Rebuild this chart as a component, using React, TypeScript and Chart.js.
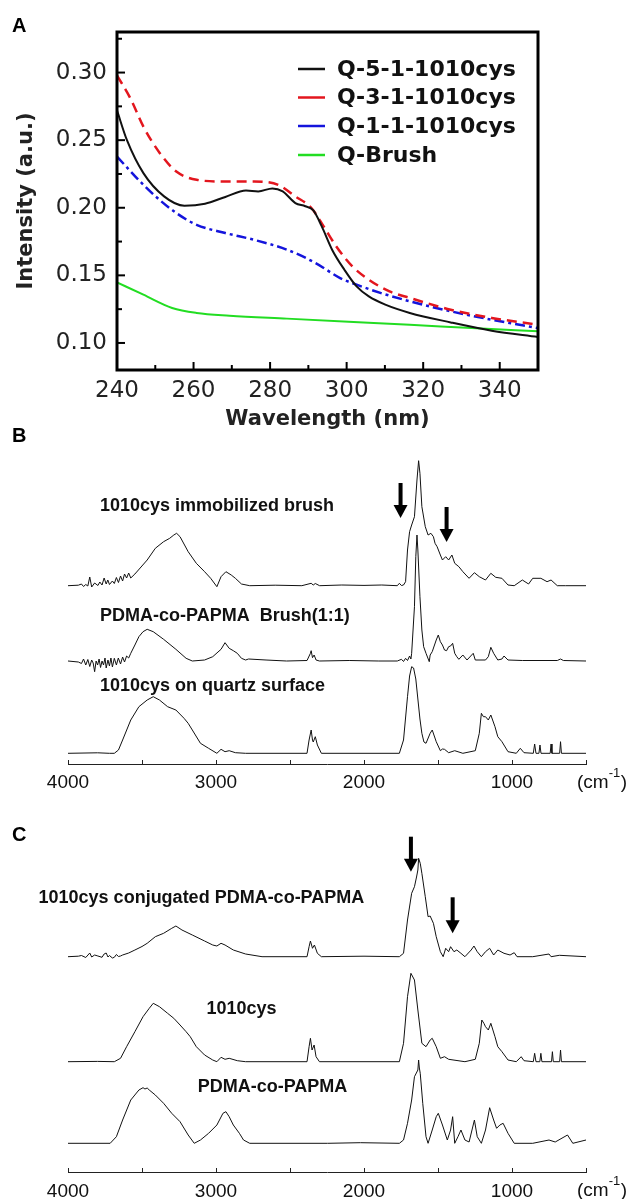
import React, { useEffect, useRef } from 'react';
import { Chart, registerables } from 'chart.js';

Chart.register(...registerables);

const SANS = "'Liberation Sans', Arial, Helvetica, sans-serif";
const WIDE = "'DejaVu Sans', Verdana, sans-serif";

type Pt = [number, number];

// ---------------- Panel A : UV spectra ----------------
const q5Wavelength = [240, 242.6, 246.9, 252.3, 257.6, 263, 268.3, 273.7, 276.9, 280.6, 283.3, 286.6, 289.2, 291.3, 293.5, 296.2, 299.4, 302.6, 305.8, 310.1, 316.5, 327.2, 337.9, 350];
const q5Intensity = [0.272, 0.25, 0.2256, 0.2084, 0.2015, 0.203, 0.208, 0.2128, 0.2121, 0.2143, 0.2121, 0.2035, 0.2011, 0.198, 0.1862, 0.169, 0.1542, 0.1418, 0.1344, 0.1283, 0.1222, 0.1152, 0.1091, 0.1044];

const q3Wavelength = [240, 243.7, 246.9, 251.2, 255.5, 260.8, 268.3, 275.8, 282.2, 286.6, 290.8, 294, 297.3, 301.5, 305.8, 311.2, 316.5, 327.2, 337.9, 350];
const q3Intensity = [0.298, 0.2798, 0.26, 0.2404, 0.2268, 0.2207, 0.2194, 0.2194, 0.2168, 0.2084, 0.1998, 0.1862, 0.1714, 0.1566, 0.1468, 0.1381, 0.1333, 0.1246, 0.1185, 0.1135];

const q1Wavelength = [240, 244.8, 250.1, 255.5, 260.8, 268.3, 275.8, 284.4, 291.9, 298.3, 302.6, 309, 316.5, 327.2, 337.9, 350];
const q1Intensity = [0.2379, 0.2231, 0.2084, 0.1961, 0.1874, 0.1813, 0.1763, 0.169, 0.1591, 0.148, 0.1431, 0.1369, 0.1308, 0.1234, 0.1172, 0.111];

const brushWavelength = [240, 246.9, 254.4, 260.8, 269.4, 284.4, 300.5, 316.5, 332.6, 350];
const brushIntensity = [0.1448, 0.1357, 0.1259, 0.1222, 0.1202, 0.118, 0.1157, 0.1135, 0.111, 0.1086];

const seriesNamesA = ['Q-5-1-1010cys', 'Q-3-1-1010cys', 'Q-1-1-1010cys', 'Q-Brush'];

const aXMajor = [240, 260, 280, 300, 320, 340];
const aXMinor = [250, 270, 290, 310, 330, 350];
const aYMajor = [0.1, 0.15, 0.2, 0.25, 0.3];
const aYMinor = [0.125, 0.175, 0.225, 0.275, 0.325];

// ---------------- Panel B : FTIR ----------------
const bImmobilized: Pt[] = [
  [4000, 178.3], [3930, 178.8], [3909, 180], [3895, 177.5], [3880, 179.5], [3866, 178], [3853, 187], [3840, 177], [3820, 181], [3798, 178.5],
  [3785, 182], [3770, 179], [3756, 186], [3742, 180], [3731, 184], [3720, 179.5], [3700, 183], [3687, 180.5], [3673, 186.5], [3659, 181.5],
  [3645, 188], [3631, 183], [3618, 190], [3604, 186], [3590, 191], [3576, 186], [3548, 190], [3465, 204], [3410, 215.7], [3354, 222.3],
  [3313, 225.7], [3285, 229], [3266, 230.7], [3243, 227.3], [3188, 212.3], [3133, 200.7], [3077, 192.3], [3036, 185.7], [2994, 177.3], [2966, 187.3],
  [2933, 192.3], [2897, 189], [2869, 185.7], [2828, 180], [2772, 178.3], [2600, 178.8], [2420, 178.3], [2357, 180.7], [2343, 179], [2329, 180.5],
  [2300, 178.3], [2150, 179], [2000, 178.6], [1880, 179], [1775, 178.3], [1761, 180.7], [1747, 178.5], [1733, 179], [1719, 182.3], [1706, 214],
  [1692, 232.3], [1678, 239], [1659, 247.3], [1642, 284], [1631, 303.3], [1622, 290.7], [1609, 257.3], [1586, 237.3], [1567, 229], [1548, 230.7],
  [1531, 227.3], [1520, 220.7], [1506, 217.3], [1484, 209], [1470, 204], [1448, 207.3], [1428, 204], [1406, 209], [1387, 200.7], [1359, 197.3],
  [1332, 192.3], [1290, 185.7], [1254, 191.3], [1221, 187.3], [1179, 184], [1143, 190.7], [1110, 186.7], [1068, 185.7], [1027, 179], [985, 178.3],
  [930, 184], [888, 180], [860, 185.7], [805, 185.7], [763, 182.3], [736, 184], [694, 178.3], [639, 178.3], [500, 178.3],
];
const bBrush: Pt[] = [
  [4000, 103], [3930, 102], [3909, 100.5], [3895, 105], [3880, 99], [3866, 104.5], [3853, 97.5], [3840, 104], [3830, 101], [3820, 92.3],
  [3810, 103], [3800, 99], [3790, 105], [3780, 96.5], [3770, 103], [3760, 99], [3750, 106], [3742, 96], [3730, 104], [3720, 98],
  [3710, 106], [3700, 97], [3687, 105.7], [3673, 99], [3660, 106], [3645, 100], [3631, 107], [3618, 102], [3604, 108], [3590, 106],
  [3576, 110.7], [3548, 119], [3521, 127.3], [3493, 132.3], [3465, 134.7], [3424, 132.3], [3354, 124.7], [3271, 114.7], [3202, 105.7], [3160, 103],
  [3077, 104], [3022, 107.3], [2966, 114.7], [2939, 121.3], [2911, 115.7], [2883, 113.3], [2856, 110.7], [2828, 105.7], [2800, 104], [2780, 105],
  [2662, 104], [2523, 103], [2385, 103.5], [2362, 110.7], [2357, 113.3], [2348, 106.3], [2337, 109], [2324, 104], [2301, 103], [2100, 103.5],
  [1900, 103], [1775, 103], [1747, 104.7], [1733, 102.5], [1719, 105.7], [1706, 103.5], [1692, 108], [1683, 105], [1678, 110.7], [1659, 157.3],
  [1650, 207.3], [1642, 229], [1636, 214], [1622, 167.3], [1609, 134], [1597, 117.3], [1581, 110.7], [1559, 102.3], [1553, 109], [1539, 112.3],
  [1512, 124], [1498, 129], [1484, 122.3], [1470, 119], [1456, 114], [1442, 113.3], [1428, 117.3], [1415, 118], [1401, 120.7], [1387, 110.7],
  [1373, 107.3], [1359, 104.7], [1332, 109], [1304, 104], [1262, 110.7], [1248, 104], [1179, 104], [1160, 107.3], [1143, 116.7], [1124, 110.7],
  [1096, 104], [1068, 105], [1054, 108], [1027, 104], [930, 103.5], [694, 103.5], [672, 105], [653, 103.5], [500, 103],
];
const bQuartz: Pt[] = [
  [4000, 10.7], [3800, 11.2], [3720, 10.7], [3687, 10.7], [3659, 14], [3631, 24], [3576, 44], [3521, 57.3], [3465, 64], [3424, 67.3],
  [3382, 64], [3327, 57.3], [3271, 54], [3216, 45.7], [3188, 40.7], [3160, 34], [3105, 20.7], [3050, 15.7], [2994, 10.7], [2966, 14.7],
  [2939, 12.3], [2911, 13.3], [2869, 11.3], [2800, 10.7], [2385, 10.7], [2371, 24], [2357, 34], [2348, 24], [2343, 22], [2329, 27.3],
  [2315, 19], [2288, 10.7], [1761, 10.7], [1733, 24], [1706, 67.3], [1692, 88], [1678, 97.3], [1665, 96], [1650, 85], [1636, 65],
  [1622, 45], [1609, 30.7], [1595, 22], [1581, 20.7], [1553, 30.7], [1539, 34], [1512, 22.3], [1484, 13.3], [1470, 15], [1456, 14.7],
  [1428, 11.3], [1387, 13.3], [1332, 10.7], [1248, 13.3], [1221, 30.7], [1207, 50.7], [1193, 47.3], [1179, 47.3], [1160, 44], [1143, 49],
  [1115, 37.3], [1096, 27.3], [1068, 22.3], [1027, 12.3], [971, 10.7], [944, 15.7], [919, 11.3], [856, 10.7], [847, 20], [838, 10.7],
  [818, 10.7], [811, 19], [804, 10.7], [742, 10.7], [736, 20], [730, 10.7], [678, 10.7], [672, 22.3], [666, 10.7], [500, 10.7],
];
const bLabels = ['1010cys immobilized brush', 'PDMA-co-PAPMA  Brush(1:1)', '1010cys on quartz surface'];
const bLabelWn = [3784, 3784, 3784];
const bLabelY = [257.5, 147.5, 77.5];
const bArrowWn = [1753, 1442];
const bArrowTop = [281, 257];
const bArrowTip = [246, 222];

// ---------------- Panel C : FTIR ----------------
const cConjugated: Pt[] = [
  [4000, 215.3], [3930, 215.8], [3909, 216.5], [3880, 214.5], [3853, 219], [3840, 215], [3820, 217], [3798, 216], [3770, 214.7], [3756, 218],
  [3742, 219], [3730, 215], [3720, 216.5], [3700, 214], [3687, 214.7], [3673, 217.5], [3659, 215.5], [3645, 216], [3631, 217], [3590, 219],
  [3548, 222], [3500, 225.5], [3465, 228.7], [3410, 235.3], [3354, 238.7], [3299, 243.7], [3271, 246], [3230, 242], [3160, 237], [3077, 231],
  [3022, 227], [2994, 226], [2966, 228.7], [2939, 227], [2883, 222], [2800, 218], [2689, 215.3], [2385, 215.3], [2371, 225.3], [2362, 231],
  [2348, 223.7], [2335, 227], [2315, 218.7], [2288, 215.3], [2000, 215.8], [1761, 215.3], [1733, 218.7], [1706, 252], [1678, 278.7], [1659, 285.3],
  [1645, 295], [1636, 302], [1631, 313.7], [1620, 308.7], [1609, 298.7], [1586, 275.3], [1567, 255.3], [1553, 256], [1531, 248.7], [1512, 235.3],
  [1484, 220.3], [1465, 215.3], [1448, 223.7], [1428, 220.3], [1415, 225.3], [1392, 220.3], [1373, 222], [1345, 218.7], [1318, 215.3], [1276, 222],
  [1257, 226], [1235, 220.3], [1207, 215.3], [1179, 220.3], [1151, 223.7], [1124, 217], [1096, 222], [1054, 218.7], [1013, 217], [985, 219.3],
  [966, 215.3], [860, 215.3], [750, 218], [736, 215.3], [680, 216.7], [500, 215.3],
];
const cCys: Pt[] = [
  [4000, 110.3], [3800, 110.6], [3687, 110.3], [3645, 113.7], [3604, 125.3], [3548, 140.3], [3493, 155.3], [3451, 163.7], [3424, 168.7], [3382, 165.3],
  [3327, 158.7], [3285, 153.7], [3243, 147], [3202, 140.3], [3174, 135.3], [3133, 125.3], [3077, 117], [3022, 112], [2994, 110.3], [2966, 114.7],
  [2939, 112.7], [2911, 113.7], [2856, 111.3], [2800, 110.3], [2385, 110.3], [2371, 125.3], [2362, 133.7], [2351, 122], [2337, 127], [2324, 115.3],
  [2301, 110.3], [1761, 110.3], [1733, 128.7], [1706, 175.3], [1683, 198.7], [1659, 192], [1636, 162], [1609, 128.7], [1581, 125.3], [1553, 132],
  [1539, 133.7], [1512, 125.3], [1484, 113.7], [1456, 115.3], [1428, 112.7], [1318, 110.3], [1248, 112.7], [1221, 128.7], [1204, 152], [1190, 148.7],
  [1179, 145.3], [1160, 142], [1143, 148.7], [1115, 135.3], [1096, 125.3], [1068, 120.3], [1027, 112], [971, 110.3], [938, 115.3], [919, 111.3],
  [856, 110.3], [847, 118.7], [838, 110.3], [812, 110.3], [805, 118.7], [798, 110.3], [733, 110.3], [727, 120.3], [721, 110.3], [678, 110.3],
  [672, 122], [666, 110.3], [500, 110.3],
];
const cCopolymer: Pt[] = [
  [4000, 28.7], [3715, 28.7], [3673, 35.3], [3631, 52], [3576, 72], [3521, 82], [3493, 84.3], [3480, 83], [3465, 84], [3451, 82],
  [3410, 77], [3354, 68.7], [3299, 58.7], [3243, 50.3], [3188, 37], [3147, 28.7], [3105, 32], [3050, 38.7], [2994, 47], [2953, 58.7],
  [2933, 60.3], [2911, 55.3], [2883, 47], [2842, 38.7], [2814, 32], [2772, 28.7], [2246, 28.7], [2024, 29.3], [1761, 28.7], [1733, 32],
  [1706, 48.7], [1678, 72], [1659, 95.3], [1636, 102], [1631, 112], [1626, 104], [1620, 98.7], [1603, 68.7], [1581, 35.3], [1567, 28.7],
  [1539, 42], [1512, 55.3], [1498, 58.7], [1470, 47], [1437, 32], [1415, 42], [1401, 55.3], [1387, 28.7], [1365, 35.3], [1345, 42],
  [1318, 32], [1290, 30], [1254, 52], [1235, 35.3], [1207, 28.7], [1179, 42], [1151, 64.3], [1124, 52], [1104, 43.7], [1082, 47],
  [1060, 48.7], [1027, 38.7], [985, 28.7], [860, 28.7], [750, 32], [708, 30], [625, 37], [589, 28.7], [500, 32],
];
const cLabels = ['1010cys conjugated PDMA-co-PAPMA', '1010cys', 'PDMA-co-PAPMA'];
const cLabelWn = [4199, 3064, 3124];
const cLabelY = [274, 163, 85.3];
const cArrowWn = [1683, 1401];
const cArrowTop = [335.3, 274.7];
const cArrowTip = [300.3, 238.7];

const irTicks = [4000, 3500, 3000, 2500, 2000, 1500, 1000, 500];

// ---------------- helpers ----------------
const toXY = (xs: number[], ys: number[]) => xs.map((x, i) => ({ x, y: ys[i] }));
const pairsToXY = (p: Pt[]) => p.map(([x, y]) => ({ x, y }));

function PanelA() {
  const ref = useRef<HTMLCanvasElement | null>(null);
  useEffect(() => {
    const colors = ['#111111', '#e3161e', '#1414dc', '#22dd22'];
    const legendRows = [69, 97.5, 126, 155];
    const decor = {
      id: 'decorA',
      afterDraw(chart: any) {
        const { ctx, chartArea: a, scales } = chart;
        const sx = scales.x;
        const sy = scales.y;
        ctx.save();
        ctx.strokeStyle = '#000';
        ctx.lineWidth = 3;
        ctx.strokeRect(a.left, a.top, a.right - a.left, a.bottom - a.top);
        ctx.lineWidth = 2;
        const seg = (x1: number, y1: number, x2: number, y2: number) => {
          ctx.beginPath();
          ctx.moveTo(x1, y1);
          ctx.lineTo(x2, y2);
          ctx.stroke();
        };
        aXMajor.forEach((v) => { const p = sx.getPixelForValue(v); seg(p, a.bottom, p, a.bottom - 8); });
        aXMinor.forEach((v) => { const p = sx.getPixelForValue(v); seg(p, a.bottom, p, a.bottom - 5); });
        aYMajor.forEach((v) => { const p = sy.getPixelForValue(v); seg(a.left, p, a.left + 8, p); });
        aYMinor.forEach((v) => { const p = sy.getPixelForValue(v); seg(a.left, p, a.left + 5, p); });
        // legend
        ctx.font = `bold 22px ${WIDE}`;
        ctx.textBaseline = 'middle';
        ctx.textAlign = 'left';
        chart.data.datasets.forEach((ds: any, i: number) => {
          const y = legendRows[i];
          ctx.strokeStyle = ds.borderColor;
          ctx.lineWidth = 2.5;
          ctx.setLineDash([]);
          seg(a.left + 181, y, a.left + 208, y);
          ctx.fillStyle = '#111';
          ctx.fillText(ds.label, a.left + 220, y + 1);
        });
        ctx.restore();
      },
    };
    const base = { pointRadius: 0, fill: false, cubicInterpolationMode: 'monotone' as const };
    const chart = new Chart(ref.current as HTMLCanvasElement, {
      type: 'line',
      data: {
        datasets: [
          { ...base, label: seriesNamesA[0], data: toXY(q5Wavelength, q5Intensity), borderColor: colors[0], borderWidth: 2 },
          { ...base, label: seriesNamesA[1], data: toXY(q3Wavelength, q3Intensity), borderColor: colors[1], borderWidth: 2.5, borderDash: [10, 6] },
          { ...base, label: seriesNamesA[2], data: toXY(q1Wavelength, q1Intensity), borderColor: colors[2], borderWidth: 2.5, borderDash: [10, 4, 3, 4] },
          { ...base, label: seriesNamesA[3], data: toXY(brushWavelength, brushIntensity), borderColor: colors[3], borderWidth: 2 },
        ],
      },
      options: {
        responsive: false,
        animation: false,
        layout: { padding: { top: 32, right: 104, left: 0, bottom: 0 } },
        plugins: { legend: { display: false }, tooltip: { enabled: false } },
        scales: {
          x: {
            type: 'linear',
            min: 240,
            max: 350,
            grid: { display: false, drawTicks: false },
            border: { display: false },
            afterBuildTicks: (s: any) => { s.ticks = aXMajor.map((value) => ({ value })); },
            afterFit: (s: any) => { s.height = 70; },
            ticks: { font: { family: WIDE, size: 23 }, color: '#222', padding: 7, autoSkip: false, maxRotation: 0 },
            title: { display: true, text: 'Wavelength (nm)', font: { family: WIDE, size: 21, weight: 'bold' }, color: '#222', padding: { top: 0, bottom: 7.7 } },
          },
          y: {
            type: 'linear',
            min: 0.08,
            max: 0.33,
            grid: { display: false, drawTicks: false },
            border: { display: false },
            afterBuildTicks: (s: any) => { s.ticks = aYMajor.map((value) => ({ value })); },
            afterFit: (s: any) => { s.width = 117; },
            ticks: { font: { family: WIDE, size: 23 }, color: '#222', padding: 10, callback: (v: any) => Number(v).toFixed(2) },
            title: { display: true, text: 'Intensity (a.u.)', font: { family: WIDE, size: 21, weight: 'bold' }, color: '#222', padding: { top: 14, bottom: 0 } },
          },
        },
      },
      plugins: [decor],
    } as any);
    return () => chart.destroy();
  }, []);
  return <canvas ref={ref} width={642} height={440} style={{ position: 'absolute', left: 0, top: 0, width: 642, height: 440, display: 'block' }} />;
}

function makeDecor(labels: string[], labelWn: number[], labelY: number[], arrowWn: number[], arrowTop: number[], arrowTip: number[]) {
  return {
    id: 'irDecor',
    afterDraw(chart: any) {
      const { ctx, chartArea: a, scales } = chart;
      const sx = scales.x;
      const sy = scales.y;
      ctx.save();
      ctx.strokeStyle = '#222';
      ctx.lineWidth = 1;
      sx.ticks.forEach((t: any) => {
        const p = Math.round(sx.getPixelForValue(t.value)) + 0.5;
        ctx.beginPath();
        ctx.moveTo(p, a.bottom);
        ctx.lineTo(p, a.bottom - 4);
        ctx.stroke();
      });
      // unit
      ctx.fillStyle = '#111';
      ctx.textAlign = 'left';
      ctx.textBaseline = 'middle';
      const ux = a.right - 9;
      const uy = a.bottom + 18.4;
      ctx.font = `19px ${SANS}`;
      ctx.fillText('(cm', ux, uy);
      const w1 = ctx.measureText('(cm').width;
      ctx.font = `13px ${SANS}`;
      ctx.fillText('-1', ux + w1, uy - 9);
      const w2 = ctx.measureText('-1').width;
      ctx.font = `19px ${SANS}`;
      ctx.fillText(')', ux + w1 + w2 + 0.5, uy);
      // labels
      ctx.font = `bold 18px ${SANS}`;
      labels.forEach((s, i) => ctx.fillText(s, sx.getPixelForValue(labelWn[i]), sy.getPixelForValue(labelY[i])));
      // arrows
      ctx.fillStyle = '#000';
      arrowWn.forEach((w, i) => {
        const x = sx.getPixelForValue(w);
        const top = sy.getPixelForValue(arrowTop[i]);
        const tip = sy.getPixelForValue(arrowTip[i]);
        const head = 13;
        ctx.fillRect(x - 2, top, 4, tip - head - top + 1);
        ctx.beginPath();
        ctx.moveTo(x - 7, tip - head);
        ctx.lineTo(x + 7, tip - head);
        ctx.lineTo(x, tip);
        ctx.closePath();
        ctx.fill();
      });
      ctx.restore();
    },
  };
}

function IRPanel(props: {
  top: number; height: number; axisHeight: number; yMax: number; tickPad: number;
  spectra: Pt[][]; labels: string[]; labelWn: number[]; labelY: number[];
  arrowWn: number[]; arrowTop: number[]; arrowTip: number[];
}) {
  const ref = useRef<HTMLCanvasElement | null>(null);
  useEffect(() => {
    const chart = new Chart(ref.current as HTMLCanvasElement, {
      type: 'line',
      data: {
        datasets: props.spectra.map((s, i) => ({
          label: props.labels[i],
          data: pairsToXY(s),
          borderColor: '#111',
          borderWidth: 1,
          pointRadius: 0,
          tension: 0,
          fill: false,
        })),
      },
      options: {
        responsive: false,
        animation: false,
        layout: { padding: { top: 0, right: 56, left: 68, bottom: 0 } },
        plugins: { legend: { display: false }, tooltip: { enabled: false } },
        scales: {
          x: {
            type: 'linear',
            reverse: true,
            min: 500,
            max: 4000,
            grid: { display: false, drawTicks: false },
            border: { display: true, color: '#222', width: 1 },
            afterBuildTicks: (s: any) => { s.ticks = irTicks.map((value) => ({ value })); },
            afterFit: (s: any) => { s.height = props.axisHeight; },
            ticks: {
              font: { family: SANS, size: 19 },
              color: '#111',
              padding: props.tickPad,
              autoSkip: false,
              maxRotation: 0,
              callback: (v: any) => (Number(v) % 1000 === 0 ? String(v) : ''),
            },
          },
          y: { type: 'linear', display: false, min: 0, max: props.yMax },
        },
      },
      plugins: [makeDecor(props.labels, props.labelWn, props.labelY, props.arrowWn, props.arrowTop, props.arrowTip)],
    } as any);
    return () => chart.destroy();
  }, []);
  return (
    <canvas
      ref={ref}
      width={642}
      height={props.height}
      style={{ position: 'absolute', left: 0, top: props.top, width: 642, height: props.height, display: 'block' }}
    />
  );
}

const letterStyle = (top: number): React.CSSProperties => ({
  position: 'absolute',
  left: 12,
  top,
  font: `bold 20px ${SANS}`,
  lineHeight: '20px',
  color: '#000',
});

export default function App() {
  return (
    <div style={{ position: 'absolute', left: 0, top: 0, width: 642, height: 1199, background: '#fff', overflow: 'hidden' }}>
      <PanelA />
      <IRPanel
        top={440} height={370} axisHeight={46} yMax={324} tickPad={7}
        spectra={[bImmobilized, bBrush, bQuartz]}
        labels={bLabels} labelWn={bLabelWn} labelY={bLabelY}
        arrowWn={bArrowWn} arrowTop={bArrowTop} arrowTip={bArrowTip}
      />
      <IRPanel
        top={810} height={389} axisHeight={27} yMax={362} tickPad={8}
        spectra={[cConjugated, cCys, cCopolymer]}
        labels={cLabels} labelWn={cLabelWn} labelY={cLabelY}
        arrowWn={cArrowWn} arrowTop={cArrowTop} arrowTip={cArrowTip}
      />
      <div style={letterStyle(15)}>A</div>
      <div style={letterStyle(425)}>B</div>
      <div style={letterStyle(824)}>C</div>
    </div>
  );
}
